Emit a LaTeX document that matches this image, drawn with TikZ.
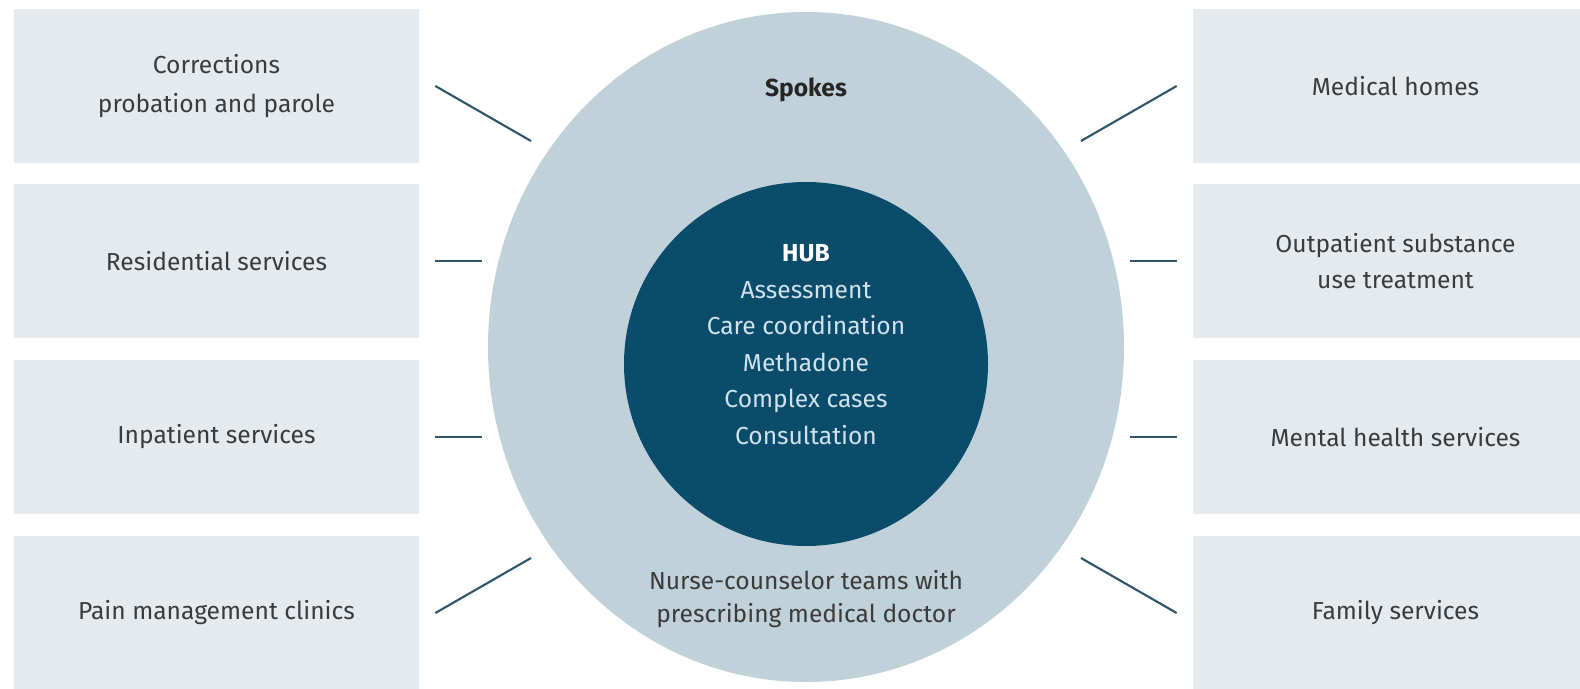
\documentclass[tikz,border=0pt]{standalone}
\usepackage{fontspec}
\setmainfont{Fira Sans}
\usetikzlibrary{shapes.geometric}

\definecolor{boxgray}{HTML}{E5EAEE}
\definecolor{ringblue}{HTML}{C0D1D9}
\definecolor{hubblue}{HTML}{0C4C6B}
\definecolor{spoketeal}{HTML}{2E5568}
\definecolor{hubletter}{HTML}{CFE2EE}
\definecolor{darktext}{HTML}{3B3B3B}

\tikzset{
	service/.style={fill=boxgray, minimum width=8.1cm, minimum height=3.08cm, inner sep=0pt,
		align=center, text=darktext, font=\fontsize{14}{20}\selectfont},
	spoke/.style={draw=spoketeal, line width=1.2pt},
}

\begin{document}
\begin{tikzpicture}
	\useasboundingbox (0,0) rectangle (31.6,13.76);
	\fill[white] (0,0) rectangle (31.6,13.76);

	% Outer ring and hub
	\node[ellipse, fill=ringblue, inner sep=0pt, minimum width=12.72cm, minimum height=13.4cm] (ring) at (16.12,6.82) {};
	\node[circle, fill=hubblue, inner sep=0pt, minimum size=7.28cm] (hub) at (16.12,6.48) {};

	% Texts in the circles
	\node (spokestitle) at (16.12,11.97) [text=black!85, font=\fontsize{14}{20}\selectfont\bfseries] {Spokes};
	\node (hubtext) at (16.12,6.87) [align=center, text=hubletter, font=\fontsize{14}{20.8}\selectfont]
		{\textcolor{white}{\bfseries HUB}\\Assessment\\Care coordination\\Methadone\\Complex cases\\Consultation};
	\node (teams) at (16.12,1.78) [align=center, text=darktext, font=\fontsize{14}{18.5}\selectfont]
		{Nurse-counselor teams with\\prescribing medical doctor};

	% Left column
	\node[service, font=\fontsize{14}{22}\selectfont] (corr) at (4.33,12.04) {Corrections\\probation and parole};
	\node[service] (resi) at (4.33,8.54) {Residential services};
	\node[service] (inpat) at (4.33,5.02) {Inpatient services};
	\node[service] (pain) at (4.33,1.50) {Pain management clinics};

	% Right column
	\node[service] (medhome) at (27.91,12.04) {Medical homes};
	\node[service] (outpat) at (27.91,8.54) {Outpatient substance\\use treatment};
	\node[service] (mental) at (27.91,5.02) {Mental health services};
	\node[service] (family) at (27.91,1.50) {Family services};

	% Spoke ends
	\coordinate (corrA) at ([xshift=0.32cm]corr.east);
	\coordinate (corrB) at (10.62,10.94);
	\coordinate (resiA) at ([xshift=0.32cm]resi.east);
	\coordinate (resiB) at (9.64,8.54);
	\coordinate (inpatA) at ([xshift=0.32cm]inpat.east);
	\coordinate (inpatB) at (9.64,5.02);
	\coordinate (painA) at ([xshift=0.32cm]pain.east);
	\coordinate (painB) at (10.62,2.60);
	\coordinate (medhomeA) at ([xshift=-0.32cm]medhome.west);
	\coordinate (medhomeB) at (21.62,10.94);
	\coordinate (outpatA) at ([xshift=-0.32cm]outpat.west);
	\coordinate (outpatB) at (22.60,8.54);
	\coordinate (mentalA) at ([xshift=-0.32cm]mental.west);
	\coordinate (mentalB) at (22.60,5.02);
	\coordinate (familyA) at ([xshift=-0.32cm]family.west);
	\coordinate (familyB) at (21.62,2.60);

	% Spokes
	\draw[spoke] (corrA) -- (corrB);
	\draw[spoke] (resiA) -- (resiB);
	\draw[spoke] (inpatA) -- (inpatB);
	\draw[spoke] (painA) -- (painB);
	\draw[spoke] (medhomeA) -- (medhomeB);
	\draw[spoke] (outpatA) -- (outpatB);
	\draw[spoke] (mentalA) -- (mentalB);
	\draw[spoke] (familyA) -- (familyB);

\end{tikzpicture}
\end{document}
